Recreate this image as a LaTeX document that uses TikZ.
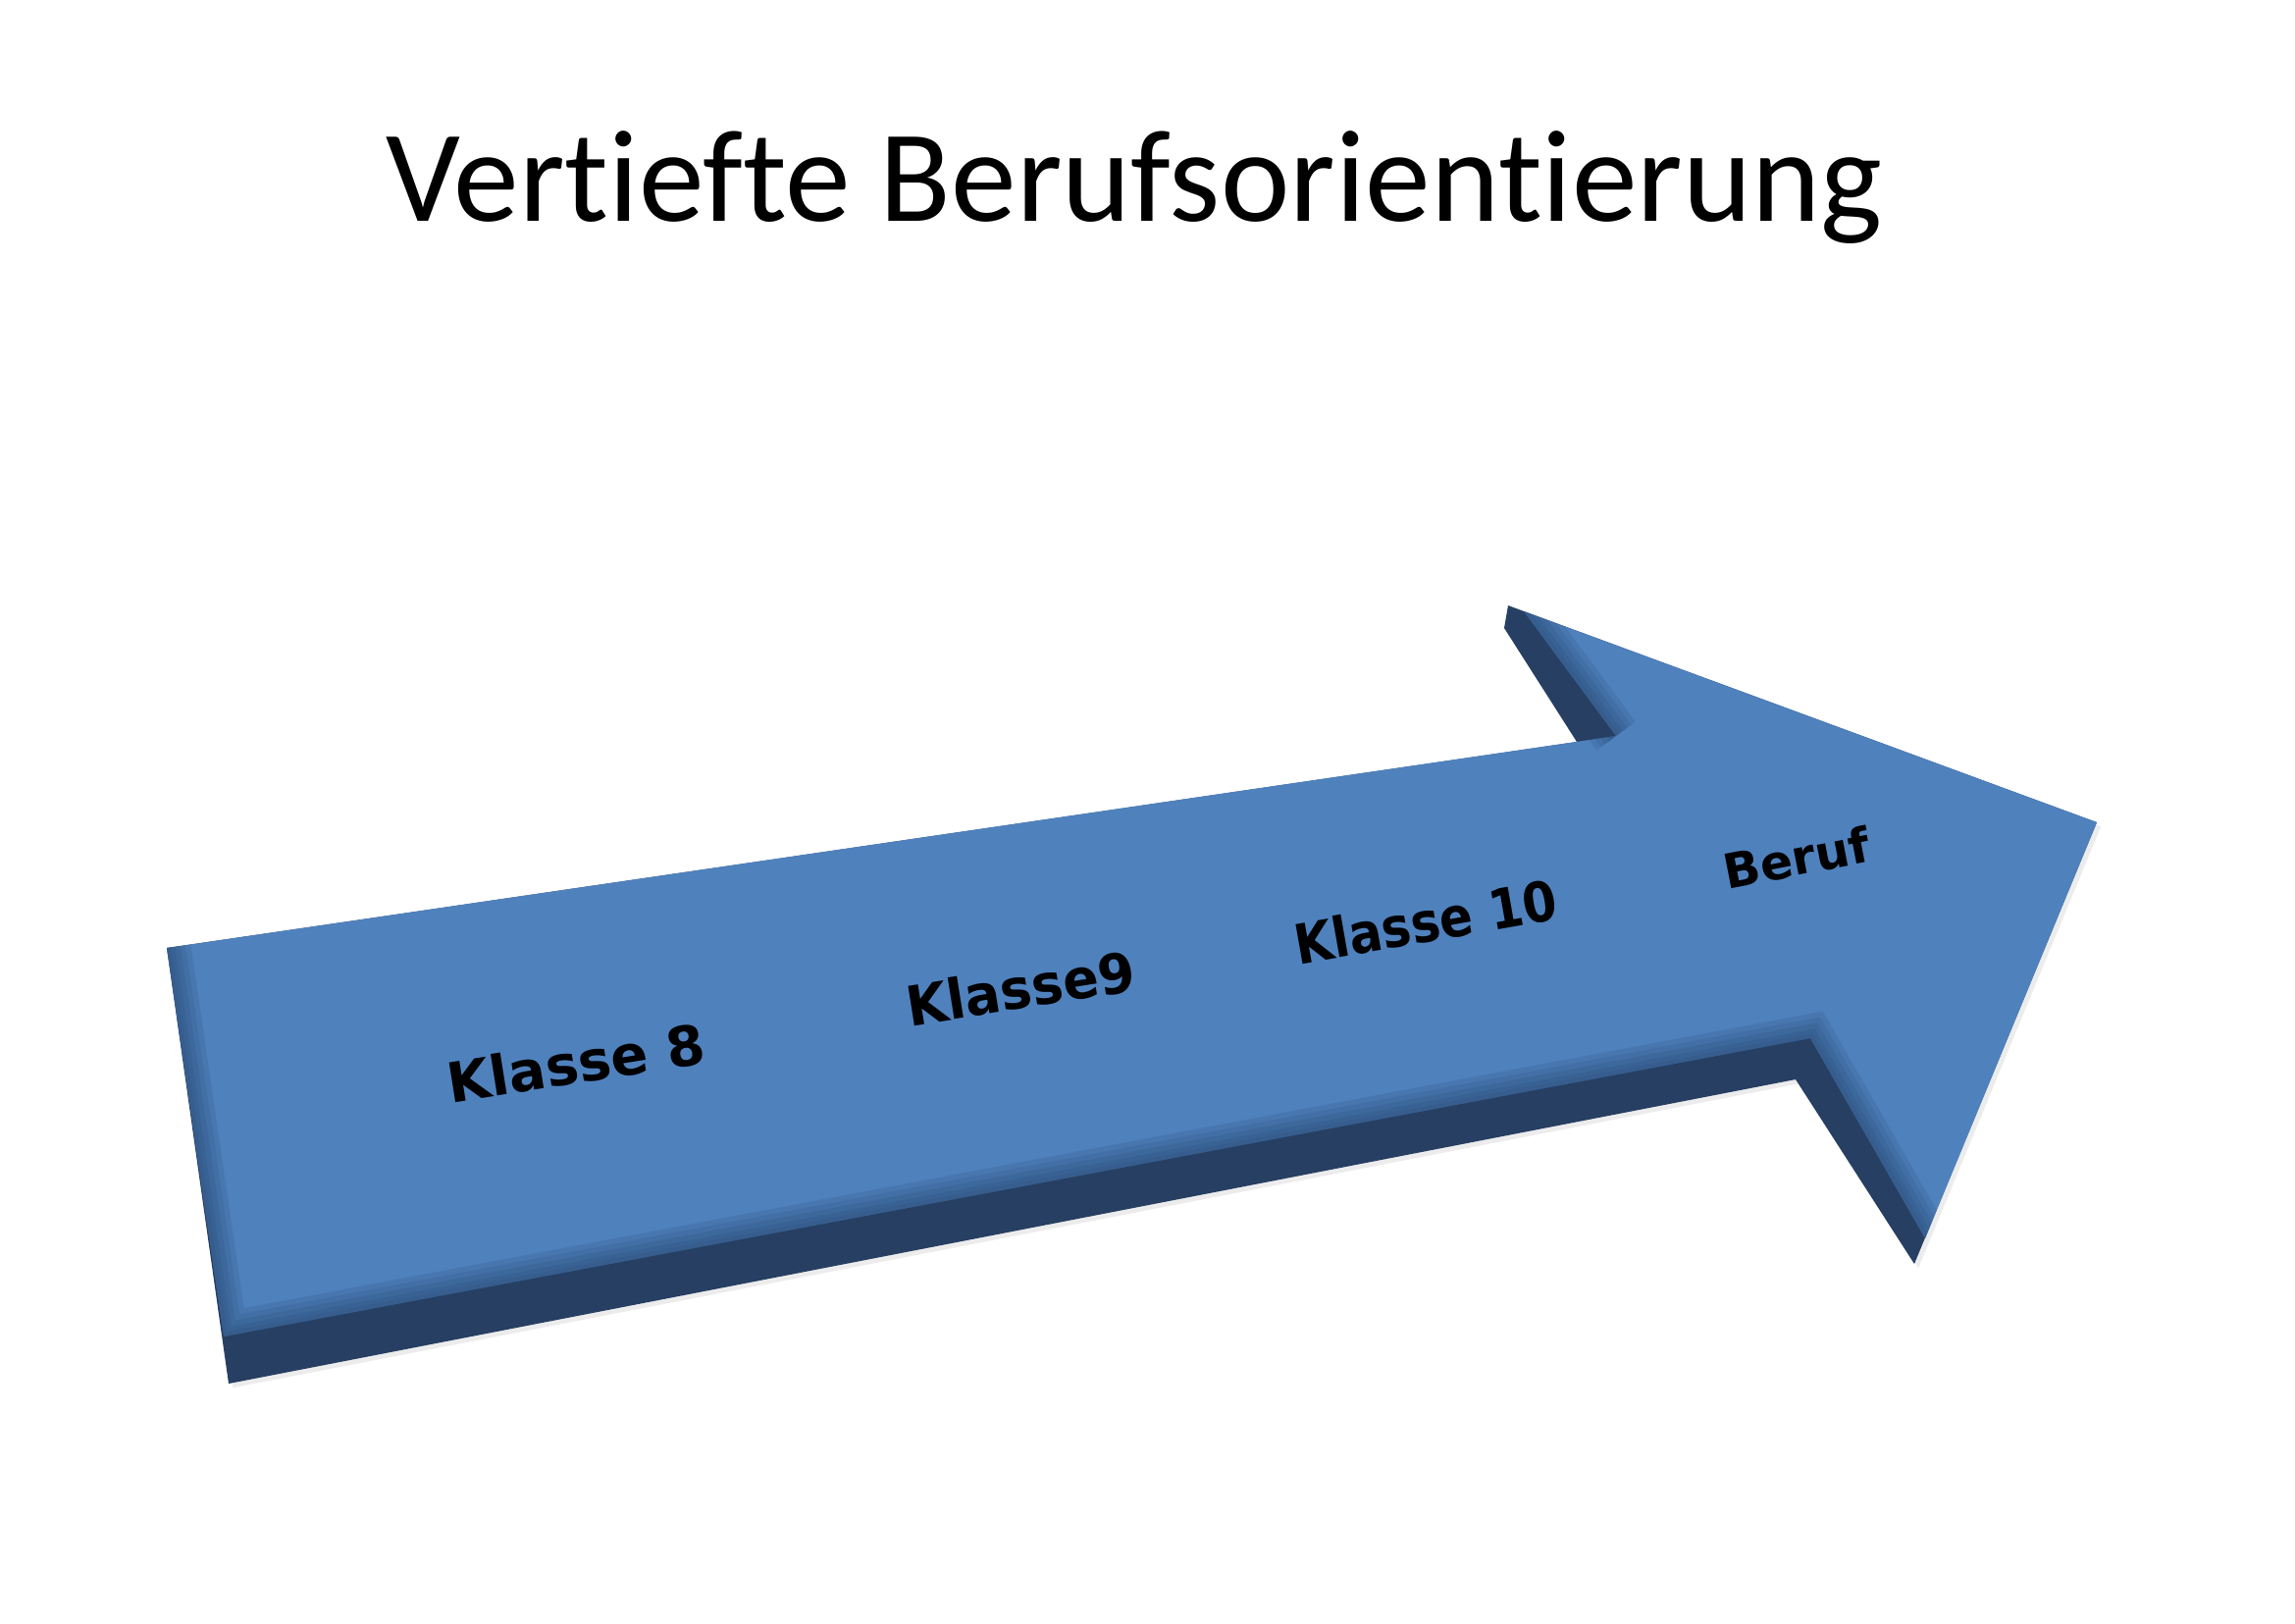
\documentclass[tikz,border=0pt]{standalone}
\usepackage{fontspec}
\setmainfont{Carlito}[Ligatures={NoCommon,NoRequired,NoContextual}]
\newfontfamily\stufenfont{DejaVu Sans}
\usetikzlibrary{shadows}

\definecolor{pfeilblau}{RGB}{79,129,189}
\definecolor{pfeilseite}{RGB}{38,63,98}
\definecolor{pfeilkante}{RGB}{40,70,112}

\tikzset{every picture/.style={line width=0.75pt},
  stufe/.style={font=\stufenfont\bfseries\fontsize{16}{19}\selectfont, inner sep=0pt},
  kante/.style={pfeilkante, opacity=0.16, line join=miter}}

\begin{document}
\begin{tikzpicture}[x=0.1mm,y=0.1mm,yscale=-1,xscale=1]
\useasboundingbox (0,0) rectangle (2339,1654);

% Umriss mit Seitenflaeche
\coordinate (s1) at (170,966);
\coordinate (s2) at (1607,756);
\coordinate (s3) at (1533,640);
\coordinate (s4) at (1537,617);
\coordinate (s5) at (2137,838);
\coordinate (s6) at (1951,1288);
\coordinate (s7) at (1830,1100);
\coordinate (s8) at (233,1410);
% Oberseite
\coordinate (f1) at (170,966);
\coordinate (f2) at (1647,750);
\coordinate (f3) at (1553,623);
\coordinate (f4) at (2137,838);
\coordinate (f5) at (1962,1262);
\coordinate (f6) at (1845,1058);
\coordinate (f7) at (228,1362);

\fill [pfeilseite, drop shadow={shadow xshift=1.2pt, shadow yshift=-1.2pt, opacity=0.15}]
  (s1) -- (s2) -- (s3) -- (s4) -- (s5) -- (s6) -- (s7) -- (s8) -- cycle ;
\fill [pfeilblau] (f1) -- (f2) -- (f3) -- (f4) -- (f5) -- (f6) -- (f7) -- cycle ;

% Fase
\begin{scope}
\clip (f1) -- (f2) -- (f3) -- (f4) -- (f5) -- (f6) -- (f7) -- cycle ;
\foreach \b in {14,11,8,5,2.5}
  \draw [kante, line width=\b pt] (f2) -- (f3) (f5) -- (f6) -- (f7) -- (f1) ;
\end{scope}

\node [font=\fontsize{38}{46}\selectfont, anchor=base] (titel) at (1156,225) {Vertiefte Berufsorientierung};

\node [stufe, rotate=9] (k8) at (587,1083) {Klasse 8};
\node [stufe, rotate=9, xscale=0.96] (k9) at (1040,1007) {Klasse9};
\node [stufe, rotate=10, xscale=0.89] (k10) at (1453,939) {Klasse 10};
\node [stufe, rotate=11, scale=0.87] (beruf) at (1831,874) {Beruf};

\end{tikzpicture}
\end{document}
